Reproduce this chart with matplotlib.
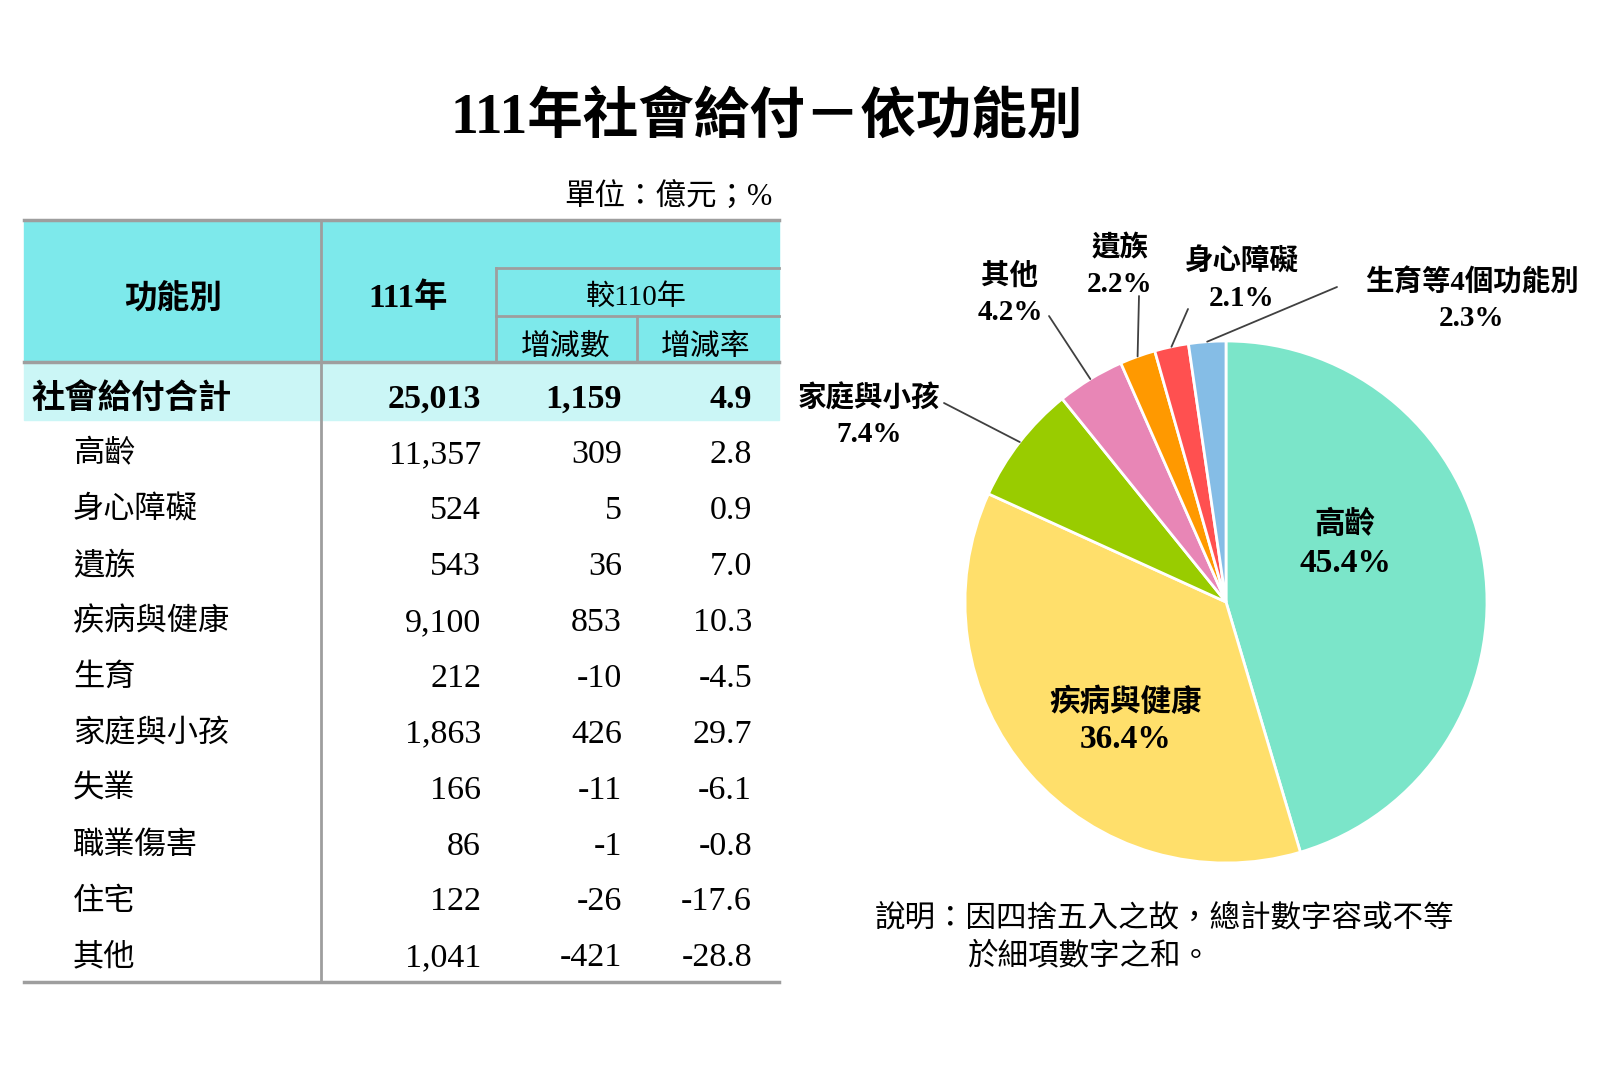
import numpy as np
import matplotlib
matplotlib.use('Agg')
import matplotlib.pyplot as plt
from matplotlib.patches import Rectangle

plt.rcParams['font.family'] = ['Liberation Serif', 'Noto Sans CJK TC']

# ---- data ----
names = ['高齡', '身心障礙', '遺族', '疾病與健康', '生育', '家庭與小孩', '失業', '職業傷害', '住宅', '其他']
amount = [11357, 524, 543, 9100, 212, 1863, 166, 86, 122, 1041]
change = [309, 5, 36, 853, -10, 426, -11, -1, -26, -421]
rate = [2.8, 0.9, 7.0, 10.3, -4.5, 29.7, -6.1, -0.8, -17.6, -28.8]
total_name = '社會給付合計'
total_amount = 25013
total_change = 1159
total_rate = 4.9

pie_labels = ['高齡', '疾病與健康', '家庭與小孩', '其他', '遺族', '身心障礙', '生育等4個功能別']
pie_pct = [45.4, 36.4, 7.4, 4.2, 2.2, 2.1, 2.3]
pie_colors = ['#7BE5C9', '#FFDF6B', '#99CC00', '#E886B6', '#FF9900', '#FF5050', '#85BDE6']

W, H = 1600, 1072
fig = plt.figure(figsize=(16, 10.72), dpi=100)

# ---- pie (drawn first so text axes sits above it) ----
cx, cy, r = 1226, 602, 261
pax = fig.add_axes([(cx - r) / W, 1 - (cy + r) / H, 2 * r / W, 2 * r / H])
wedges, _ = pax.pie(pie_pct, colors=pie_colors, startangle=90, counterclock=False,
                    wedgeprops=dict(edgecolor='white', linewidth=2))
pax.set_xlim(-1, 1)
pax.set_ylim(-1, 1)
pax.axis('off')

ax = fig.add_axes([0, 0, 1, 1])
ax.set_xlim(0, W)
ax.set_ylim(H, 0)
ax.axis('off')
ax.set_zorder(3)

dy = 4  # small nudge, text sits a bit low in the original

# title
ax.text(767, 115 + dy, '111年社會給付－依功能別', ha='center', va='center',
        fontsize=40, fontweight='bold')
ax.text(772, 194 + dy, '單位：億元；%', ha='right', va='center', fontsize=22)

# ---- table ----
left, right = 24, 779
col1 = 321
sub_x, sub_x2 = 496, 637
top, mid1, mid2, head_bot = 220, 268, 316, 362
row0, step = 451, 55.9
bottom = 982
line_c = '#9E9E9E'

ax.add_patch(Rectangle((left, top), right - left, head_bot - top, color='#7DE9EB', zorder=0))
ax.add_patch(Rectangle((left, head_bot), right - left, 420 - head_bot, color='#CBF6F6', zorder=0))

ax.plot([left, right], [top, top], color=line_c, lw=2.5)
ax.plot([left, right], [head_bot, head_bot], color=line_c, lw=2.5)
ax.plot([left, right], [bottom, bottom], color=line_c, lw=2.5)
ax.plot([sub_x, right], [mid1, mid1], color=line_c, lw=2)
ax.plot([sub_x, right], [mid2, mid2], color=line_c, lw=2)
ax.plot([col1, col1], [top, bottom], color=line_c, lw=2)
ax.plot([sub_x, sub_x], [mid1, head_bot], color=line_c, lw=2)
ax.plot([sub_x2, sub_x2], [mid2, head_bot], color=line_c, lw=2)

ax.text(173, 296 + dy, '功能別', ha='center', va='center', fontsize=23.5, fontweight='bold')
ax.text(408, 294 + dy, '111年', ha='center', va='center', fontsize=24, fontweight='bold')
ax.text(636, 294 + dy, '較110年', ha='center', va='center', fontsize=21)
ax.text(566, 343 + dy, '增減數', ha='center', va='center', fontsize=21.5)
ax.text(706, 343 + dy, '增減率', ha='center', va='center', fontsize=21.5)

xa, xb, xc = 481, 622, 752
ty = 395 + dy
ax.text(31, ty, total_name, ha='left', va='center', fontsize=24, fontweight='bold')
ax.text(xa, ty, f'{total_amount:,}', ha='right', va='center', fontsize=24.5, fontweight='bold')
ax.text(xb, ty, f'{total_change:,}', ha='right', va='center', fontsize=24.5, fontweight='bold')
ax.text(xc, ty, f'{total_rate:.1f}', ha='right', va='center', fontsize=24.5, fontweight='bold')

for i, n in enumerate(names):
    y = row0 + i * step + dy
    ax.text(73, y, n, ha='left', va='center', fontsize=22.5)
    ax.text(xa, y, f'{amount[i]:,}', ha='right', va='center', fontsize=24.5)
    ax.text(xb, y, f'{change[i]:,}', ha='right', va='center', fontsize=24.5)
    ax.text(xc, y, f'{rate[i]:.1f}', ha='right', va='center', fontsize=24.5)

# inside pie labels
ax.text(1345, 521 + dy, pie_labels[0], ha='center', va='center', fontsize=22, fontweight='bold')
ax.text(1345, 560 + dy, f'{pie_pct[0]}%', ha='center', va='center', fontsize=24, fontweight='bold')
ax.text(1126, 699 + dy, pie_labels[1], ha='center', va='center', fontsize=22, fontweight='bold')
ax.text(1126, 736 + dy, f'{pie_pct[1]}%', ha='center', va='center', fontsize=24, fontweight='bold')

# outside labels: (text centre, leader start) in figure pixels
out_pos = {
    2: ((869, 394), (944, 403)),
    3: ((1010, 272), (1049, 316)),
    4: ((1120, 245), (1139, 296)),
    5: ((1242, 258), (1188, 309)),
    6: ((1472, 278), (1337, 287)),
}
for k, ((tx, tyy), (lx, ly)) in out_pos.items():
    ax.text(tx, tyy + dy, pie_labels[k], ha='center', va='center', fontsize=20.5, fontweight='bold')
    ax.text(tx, tyy + 36 + dy, f'{pie_pct[k]}%', ha='center', va='center', fontsize=21, fontweight='bold')
    w = wedges[k]
    ang = np.deg2rad((w.theta1 + w.theta2) / 2)
    px, py = np.cos(ang), np.sin(ang)
    pax.annotate('', xy=(px, py), xytext=((lx - cx) / r, (cy - ly) / r),
                 arrowprops=dict(arrowstyle='-', color='#404040', lw=1.3,
                                 shrinkA=0, shrinkB=0), annotation_clip=False)

# note
ax.text(875, 915 + dy, '說明：因四捨五入之故，總計數字容或不等', ha='left', va='center', fontsize=22)
ax.text(967, 953 + dy, '於細項數字之和。', ha='left', va='center', fontsize=22)

fig.savefig('out.png', dpi=100)
